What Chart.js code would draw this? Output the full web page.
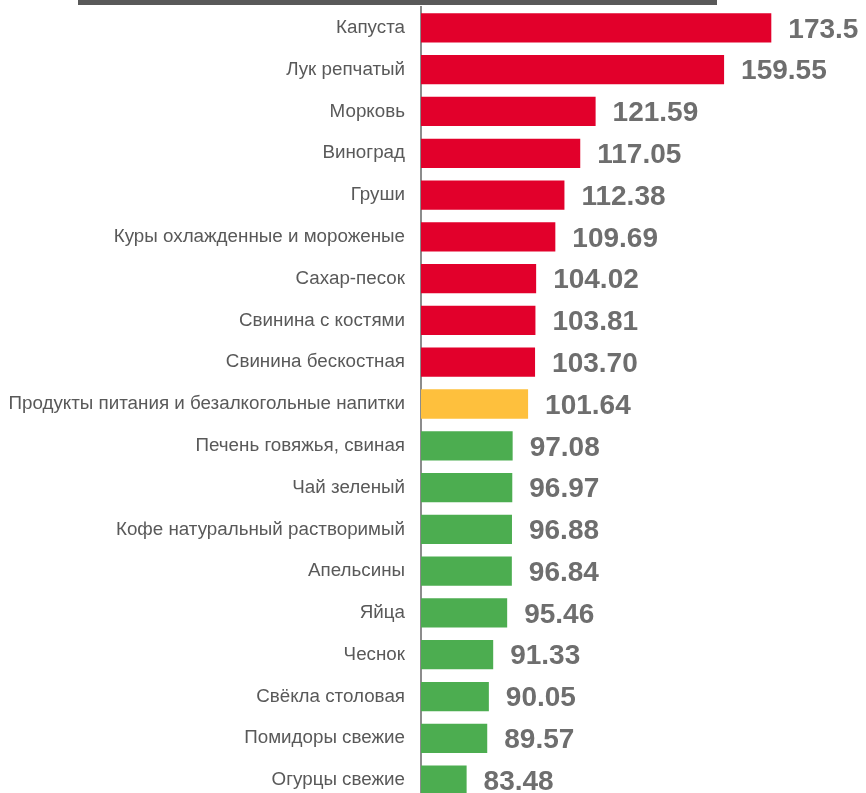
<!DOCTYPE html>
<html>
<head>
<meta charset="utf-8">
<script src="https://cdn.jsdelivr.net/npm/chart.js@4/dist/chart.umd.min.js"></script>
<style>
  html, body { margin: 0; padding: 0; background: #fff; overflow: hidden; }
  canvas { display: block; }
</style>
</head>
<body>
<canvas id="chart" width="866" height="802"></canvas>
<script>
// categories, top to bottom
var categories = [
  'Капуста', 'Лук репчатый', 'Морковь', 'Виноград', 'Груши',
  'Куры охлажденные и мороженые', 'Сахар-песок', 'Свинина с костями',
  'Свинина бескостная', 'Продукты питания и безалкогольные напитки',
  'Печень говяжья, свиная', 'Чай зеленый', 'Кофе натуральный растворимый',
  'Апельсины', 'Яйца', 'Чеснок', 'Свёкла столовая', 'Помидоры свежие',
  'Огурцы свежие'
];
var values = [
  173.5, 159.55, 121.59, 117.05, 112.38, 109.69, 104.02, 103.81, 103.70,
  101.64, 97.08, 96.97, 96.88, 96.84, 95.46, 91.33, 90.05, 89.57, 83.48
];
var valueText = [
  '173.5', '159.55', '121.59', '117.05', '112.38', '109.69', '104.02', '103.81', '103.70',
  '101.64', '97.08', '96.97', '96.88', '96.84', '95.46', '91.33', '90.05', '89.57', '83.48'
];

var RED = '#e2002b', YELLOW = '#fec03d', GREEN = '#4cad50';

function barColor (v) {
  if (v > 101.64) return RED;
  if (v === 101.64) return YELLOW;
  return GREEN;
}

// value labels right of each bar
var valueLabels = {
  id: 'valueLabels',
  afterDatasetsDraw: function (chart) {
    var ctx = chart.ctx;
    var meta = chart.getDatasetMeta(0);
    ctx.save();
    ctx.font = 'bold 28px "Liberation Sans", Arial, sans-serif';
    ctx.fillStyle = '#6e6e6e';
    ctx.textAlign = 'left';
    ctx.textBaseline = 'middle';
    meta.data.forEach(function (bar, i) {
      ctx.fillText(valueText[i], bar.x + 17, bar.y + 2);
    });
    ctx.restore();
  }
};

// dark strip at the top of the picture
var topStrip = {
  id: 'topStrip',
  beforeDraw: function (chart) {
    var ctx = chart.ctx;
    ctx.save();
    ctx.fillStyle = '#595959';
    ctx.fillRect(78, 0, 639, 5);
    ctx.restore();
  }
};

var chart = new Chart(document.getElementById('chart'), {
  type: 'bar',
  data: {
    labels: categories,
    datasets: [{
      data: values,
      backgroundColor: values.map(barColor),
      borderWidth: 0,
      barPercentage: 0.7,
      categoryPercentage: 1
    }]
  },
  options: {
    indexAxis: 'y',
    responsive: false,
    animation: false,
    layout: { padding: { top: 7, right: 5, bottom: 1, left: 0 } },
    plugins: {
      legend: { display: false },
      tooltip: { enabled: false }
    },
    scales: {
      x: {
        display: false,
        min: 70,
        max: 200
      },
      y: {
        grid: { display: false, drawTicks: false },
        border: { display: true, color: '#8c8c8c', width: 2 },
        ticks: {
          color: '#595959',
          padding: 16,
          font: { family: '"Liberation Sans", Arial, sans-serif', size: 18.8 }
        },
        afterFit: function (scale) {
          scale.width = 421;
          scale.paddingTop = 0;
          scale.paddingBottom = 0;
        }
      }
    }
  },
  plugins: [valueLabels, topStrip]
});
</script>
</body>
</html>
